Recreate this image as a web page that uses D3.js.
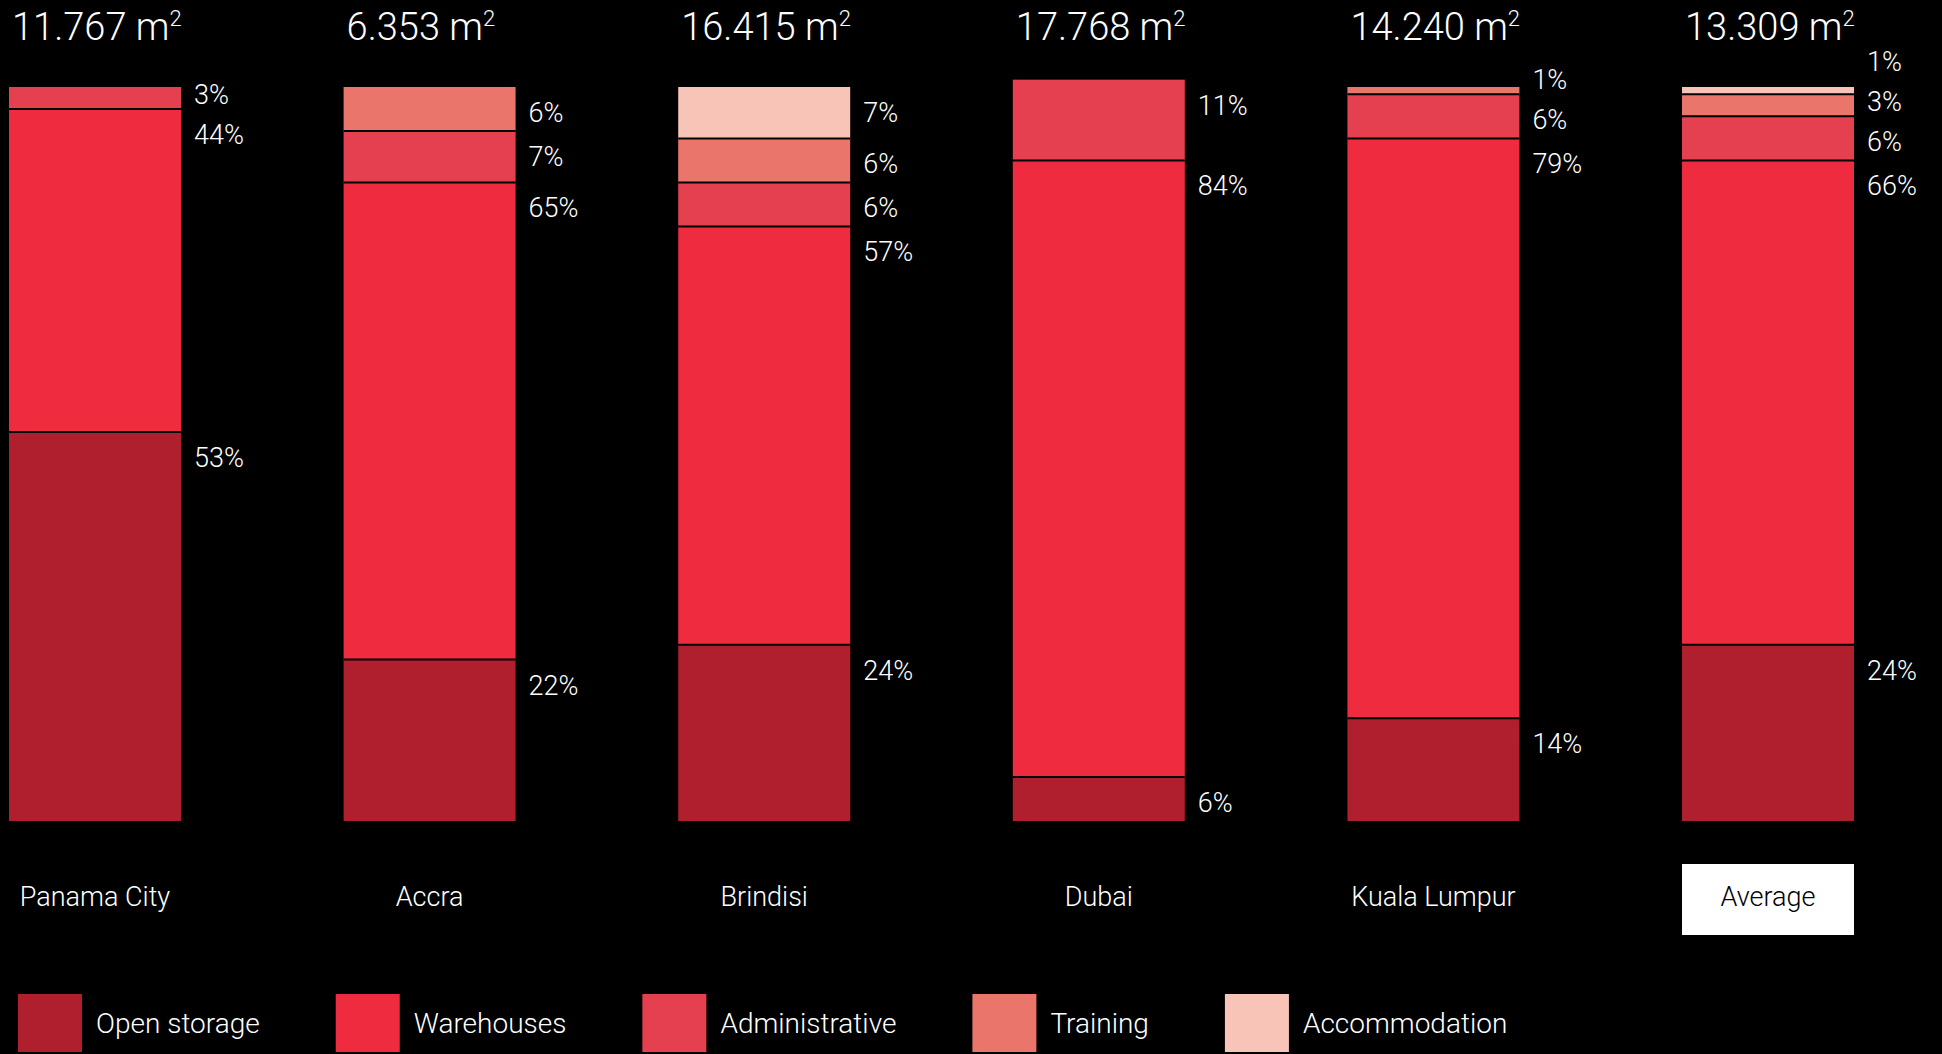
<!DOCTYPE html>
<html>
<head>
<meta charset="utf-8">
<script src="https://cdn.jsdelivr.net/npm/d3@7"></script>
<style>
    html, body { margin: 0; padding: 0; background: #000; }
    svg { display: block; }
    text { font-family: Roboto, "Liberation Sans", Arial, sans-serif; font-weight: 300; fill: #fff; }
</style>
</head>
<body>
<div id="chart"></div>
<script>
var cities = ["Panama City", "Accra", "Brindisi", "Dubai", "Kuala Lumpur", "Average"];
var areas = ["11.767", "6.353", "16.415", "17.768", "14.240", "13.309"];
var categories = ["Open storage", "Warehouses", "Administrative", "Training", "Accommodation"];
var openStorage = [53, 22, 24, 6, 14, 24];
var warehouses = [44, 65, 57, 84, 79, 66];
var administrative = [3, 7, 6, 11, 6, 6];
var training = [0, 6, 6, 0, 1, 3];
var accommodation = [0, 0, 7, 0, 0, 1];
var colors = ["#af1f2e", "#ef2b3f", "#e5404f", "#ea756b", "#f7c4b7"];

(function(){
    'use strict';
    var width = 1942,
        height = 1054,
        baseY = 821,
        fullH = 734,
        labelDrop = 35,
        labelGap = 40;

    var series = [openStorage, warehouses, administrative, training, accommodation];

    var svg = d3.select("#chart")
        .append("svg")
        .attr("width", width)
        .attr("height", height);

    svg.append("rect")
        .attr("width", width)
        .attr("height", height)
        .attr("fill", "#000");

    var x = d3.scaleBand()
        .domain(cities)
        .range([9, 1854])
        .paddingInner(0.486)
        .paddingOuter(0);

    var y = d3.scaleLinear()
        .domain([0, 100])
        .range([baseY, baseY - fullH]);

    var color = d3.scaleOrdinal()
        .domain(categories)
        .range(colors);

    // one stacked column per city, segments from bottom up
    var columns = cities.map(function(city, i) {
        var cum = 0;
        var segs = [];
        categories.forEach(function(cat, k) {
            var v = series[k][i];
            if (!v) return;
            segs.push({cat: cat, value: v, y0: cum, y1: cum + v});
            cum += v;
        });
        return {city: city, area: areas[i], segs: segs};
    });

    var col = svg.selectAll("g.col")
        .data(columns)
        .enter()
        .append("g")
        .attr("class", "col")
        .attr("transform", function(d) { return "translate(" + x(d.city) + ",0)"; });

    col.selectAll("rect.seg")
        .data(function(d) { return d.segs; })
        .enter()
        .append("rect")
        .attr("class", "seg")
        .attr("x", 0)
        .attr("width", x.bandwidth())
        .attr("y", function(d) { return y(d.y1); })
        .attr("height", function(d) { return y(d.y0) - y(d.y1); })
        .attr("fill", function(d) { return color(d.cat); });

    // thin black separators between segments
    col.selectAll("line.sep")
        .data(function(d) { return d.segs.slice(0, -1); })
        .enter()
        .append("line")
        .attr("x1", 0)
        .attr("x2", x.bandwidth())
        .attr("y1", function(d) { return y(d.y1); })
        .attr("y2", function(d) { return y(d.y1); })
        .attr("stroke", "#000")
        .attr("stroke-width", 2);

    // percent labels, pushed up when they would collide
    col.each(function(d) {
        var pos = d.segs.map(function(s) { return y(s.y1) + labelDrop; });
        for (var k = 1; k < pos.length; k++) {
            if (pos[k] > pos[k - 1] - labelGap) pos[k] = pos[k - 1] - labelGap;
        }
        d3.select(this).selectAll("text.pct")
            .data(d.segs)
            .enter()
            .append("text")
            .attr("class", "pct")
            .attr("x", x.bandwidth() + 13)
            .attr("y", function(s, k) { return pos[k]; })
            .attr("font-size", 27)
            .text(function(s) { return s.value + "%"; });
    });

    var title = col.append("text")
        .attr("x", 3)
        .attr("y", 40)
        .attr("font-size", 38);
    title.append("tspan").text(function(d) { return d.area + " m"; });
    title.append("tspan")
        .attr("font-size", 22)
        .attr("dy", -14)
        .text("2");

    col.filter(function(d) { return d.city === "Average"; })
        .append("rect")
        .attr("x", 0)
        .attr("y", 864)
        .attr("width", x.bandwidth())
        .attr("height", 71)
        .attr("fill", "#fff");

    col.append("text")
        .attr("x", x.bandwidth() / 2)
        .attr("y", 906)
        .attr("text-anchor", "middle")
        .attr("font-size", 27)
        .style("fill", function(d) { return d.city === "Average" ? "#000" : "#fff"; })
        .text(function(d) { return d.city; });

    // legend laid out left to right from text widths
    var legend = svg.append("g").attr("transform", "translate(18, 994)");
    var lx = 0;
    categories.forEach(function(cat) {
        var g = legend.append("g").attr("transform", "translate(" + lx + ",0)");
        g.append("rect")
            .attr("width", 64)
            .attr("height", 58)
            .attr("fill", color(cat));
        var t = g.append("text")
            .attr("x", 78)
            .attr("y", 39)
            .attr("font-size", 28)
            .text(cat);
        lx += 78 + t.node().getComputedTextLength() + 76;
    });
})()
</script>
</body>
</html>
